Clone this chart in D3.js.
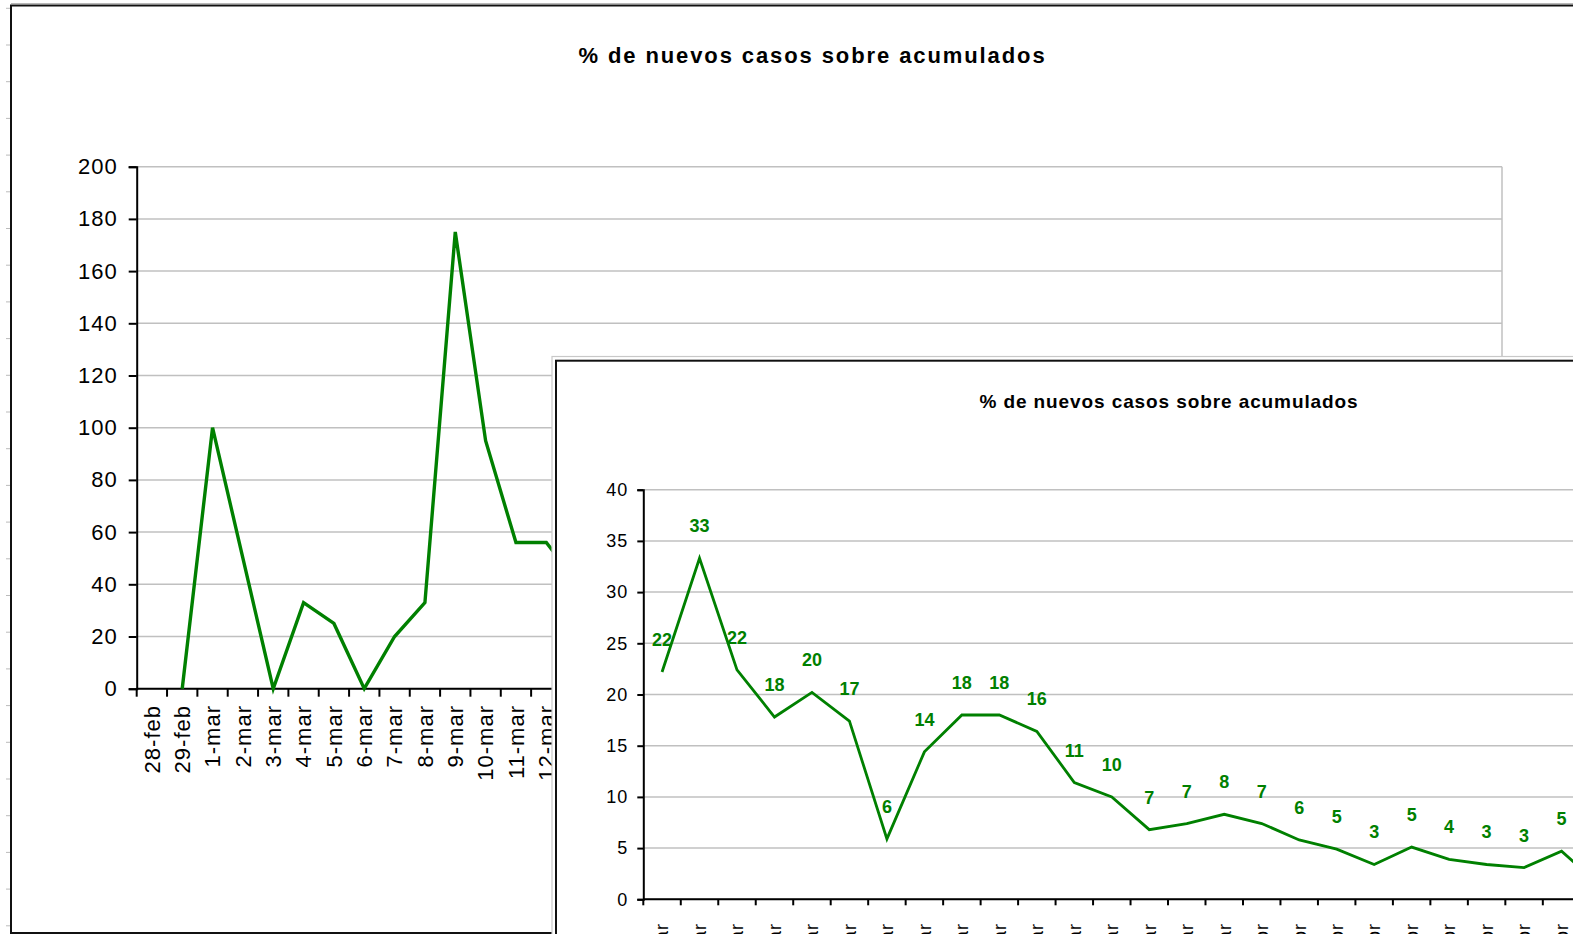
<!DOCTYPE html>
<html>
<head>
<meta charset="utf-8">
<script src="https://cdn.jsdelivr.net/npm/d3@7"></script>
<style>
body { margin: 0; background: #fff; overflow: hidden; }
text { font-family: "Liberation Sans", Arial, sans-serif; }
</style>
</head>
<body>
<div class="chart"></div>
<script>
var width = 1573, height = 934;

// days on the x axis (28-feb .. 12-abr)
var dates = ['28-feb','29-feb',
	'1-mar','2-mar','3-mar','4-mar','5-mar','6-mar','7-mar','8-mar','9-mar','10-mar',
	'11-mar','12-mar','13-mar','14-mar','15-mar','16-mar','17-mar','18-mar','19-mar','20-mar',
	'21-mar','22-mar','23-mar','24-mar','25-mar','26-mar','27-mar','28-mar','29-mar','30-mar','31-mar',
	'1-abr','2-abr','3-abr','4-abr','5-abr','6-abr','7-abr','8-abr','9-abr','10-abr','11-abr','12-abr'];

// % de nuevos casos sobre acumulados (null = no value)
var pct = [null, 0,
	100, 50, 0, 33, 25, 0, 20, 33, 175, 95,
	56, 56, 41, 38, 28, 22.2, 33.3, 22.4, 17.8, 20.2,
	17.4, 5.9, 14.4, 18, 18, 16.4, 11.4, 10, 6.8, 7.4, 8.3,
	7.4, 5.8, 4.9, 3.4, 5.1, 3.9, 3.4, 3.1, 4.7, 1.4, null, null];

// the zoomed copy starts on 16-mar
var zoomStart = '16-mar';

var title = '% de nuevos casos sobre acumulados';
var green = '#008000', grid = '#c0c0c0';

var data = dates.map(function(d, i) { return { date: d, value: pct[i] }; });
var data2 = data.slice(dates.indexOf(zoomStart));

var svg = d3.select('.chart')
	.append('svg')
	.attr('width', width)
	.attr('height', height);

// spreadsheet rows peeking out on the left
svg.append('g')
	.selectAll('line')
	.data(d3.range(8.3, height, 36.7))
	.enter().append('line')
	.attr('x1', 6).attr('x2', 11)
	.attr('y1', function(d) { return d; })
	.attr('y2', function(d) { return d; })
	.attr('stroke', '#bbb');

// ---------- chart 1 (full range) ----------
var f1 = { x: 11, y: 5.5, w: 1598, h: 927.5 };
var p1 = { left: 136.7, top: 166.7, right: 1502, bottom: 688.7 };

svg.append('line')
	.attr('x1', f1.x).attr('x2', width).attr('y1', 3.5).attr('y2', 3.5)
	.attr('stroke', '#b8b8b8').attr('stroke-width', 1.2);
svg.append('rect')
	.attr('x', f1.x).attr('y', f1.y).attr('width', f1.w).attr('height', f1.h)
	.attr('fill', '#fff').attr('stroke', '#111').attr('stroke-width', 2);

var x1 = d3.scaleBand().domain(dates).range([p1.left, p1.right]);
var y1 = d3.scaleLinear().domain([0, 200]).range([p1.bottom, p1.top]);

drawChart(svg.append('g'), {
	x: x1, y: y1, data: data, plot: p1,
	title: title, titleX: 812.5, titleY: 63.3, titleSize: 22, titleSpacing: 1.9,
	tickCount: 10, tickSize: 8, tickFont: 22, tickSpacing: 1, tickPad: 11,
	labelY: 705, lineWidth: 3.4, labels: false
});

// ---------- chart 2 (zoomed, on top) ----------
var f2 = { x: 556, y: 360.7, w: 1226, h: 700 };
var step2 = 37.48;
var p2 = { left: 643.3, top: 489.7, bottom: 899.3 };
p2.right = p2.left + step2 * data2.length;

svg.append('rect')
	.attr('x', f2.x - 4).attr('y', f2.y - 4.2).attr('width', f2.w).attr('height', f2.h)
	.attr('fill', '#fff').attr('stroke', '#c8c8c8').attr('stroke-width', 1.2);
svg.append('rect')
	.attr('x', f2.x).attr('y', f2.y).attr('width', f2.w).attr('height', f2.h)
	.attr('fill', '#fff').attr('stroke', '#111').attr('stroke-width', 2);

var x2 = d3.scaleBand().domain(data2.map(function(d) { return d.date; })).range([p2.left, p2.right]);
var y2 = d3.scaleLinear().domain([0, 40]).range([p2.bottom, p2.top]);

drawChart(svg.append('g'), {
	x: x2, y: y2, data: data2, plot: p2,
	title: title, titleX: 1169, titleY: 408, titleSize: 19, titleSpacing: 0.9,
	tickCount: 8, tickSize: 6, tickFont: 18, tickSpacing: 1, tickPad: 9,
	labelY: 923, lineWidth: 2.8, labels: true
});


function drawChart(g, o) {
	var x = o.x, y = o.y, p = o.plot;

	g.append('text')
		.attr('x', o.titleX).attr('y', o.titleY)
		.attr('text-anchor', 'middle')
		.attr('font-size', o.titleSize)
		.attr('font-weight', 'bold')
		.attr('letter-spacing', o.titleSpacing)
		.text(o.title);

	// gridlines + plot border
	g.append('g')
		.selectAll('line')
		.data(y.ticks(o.tickCount))
		.enter().append('line')
		.attr('x1', p.left).attr('x2', p.right)
		.attr('y1', function(d) { return y(d); })
		.attr('y2', function(d) { return y(d); })
		.attr('stroke', grid).attr('stroke-width', 1.5);
	g.append('line')
		.attr('x1', p.right).attr('x2', p.right)
		.attr('y1', p.top).attr('y2', p.bottom)
		.attr('stroke', grid).attr('stroke-width', 1.5);

	// y axis
	var yAxis = g.append('g')
		.attr('transform', 'translate(' + p.left + ',0)')
		.call(d3.axisLeft(y).ticks(o.tickCount).tickSize(o.tickSize).tickPadding(o.tickPad));
	yAxis.select('.domain').attr('stroke', '#000').attr('stroke-width', 2);
	yAxis.selectAll('.tick line').attr('stroke', '#000').attr('stroke-width', 2);
	yAxis.selectAll('.tick text')
		.attr('font-family', '"Liberation Sans", Arial, sans-serif')
		.attr('font-size', o.tickFont)
		.attr('letter-spacing', o.tickSpacing)
		.attr('fill', '#000');

	// x axis: line, ticks between categories, rotated labels
	g.append('line')
		.attr('x1', p.left).attr('x2', p.right)
		.attr('y1', p.bottom).attr('y2', p.bottom)
		.attr('stroke', '#000').attr('stroke-width', 2);
	var bounds = x.domain().map(function(d) { return x(d); }).concat([x.range()[1]]);
	g.append('g')
		.selectAll('line')
		.data(bounds)
		.enter().append('line')
		.attr('x1', function(d) { return d; })
		.attr('x2', function(d) { return d; })
		.attr('y1', p.bottom).attr('y2', p.bottom + o.tickSize)
		.attr('stroke', '#000').attr('stroke-width', 2);
	g.append('g')
		.selectAll('text')
		.data(x.domain())
		.enter().append('text')
		.attr('transform', function(d) {
			return 'translate(' + (x(d) + x.bandwidth() / 2) + ',' + o.labelY + ') rotate(-90)';
		})
		.attr('text-anchor', 'end')
		.attr('dy', '0.35em')
		.attr('font-size', o.tickFont)
		.attr('letter-spacing', o.tickSpacing)
		.text(function(d) { return d; });

	// series line
	var cx = function(d) { return x(d.date) + x.bandwidth() / 2; };
	var line = d3.line()
		.defined(function(d) { return d.value != null; })
		.x(cx)
		.y(function(d) { return y(d.value); });

	g.append('path')
		.datum(o.data)
		.attr('d', line)
		.attr('fill', 'none')
		.attr('stroke', green)
		.attr('stroke-width', o.lineWidth)
		.attr('stroke-linejoin', 'miter');

	if (o.labels) {
		g.append('g')
			.selectAll('text')
			.data(o.data.filter(function(d) { return d.value != null; }))
			.enter().append('text')
			.attr('x', cx)
			.attr('y', function(d) { return y(d.value) - 26; })
			.attr('text-anchor', 'middle')
			.attr('font-size', 18)
			.attr('font-weight', 'bold')
			.attr('fill', green)
			.text(function(d) { return d3.format('.0f')(d.value); });
	}
}
</script>
</body>
</html>
